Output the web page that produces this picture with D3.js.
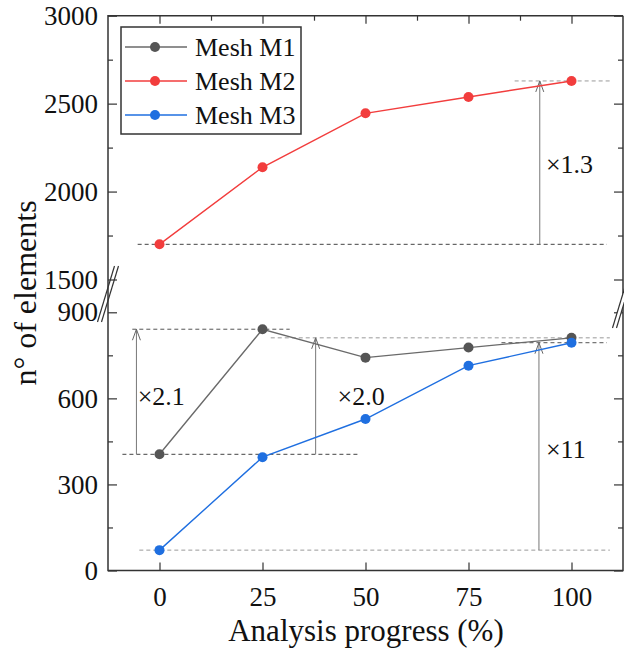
<!DOCTYPE html>
<html>
<head>
<meta charset="utf-8">
<script src="https://cdn.jsdelivr.net/npm/d3@7"></script>
<style>
  body { margin: 0; background: #fff; }
  text { font-family: "Liberation Serif", "Times New Roman", serif; fill: #111; }
</style>
</head>
<body>
<div id="canvas"></div>
<script>
// data
var progress = [0, 25, 50, 75, 100];
var meshM1 = [405, 841, 742, 777, 811];
var meshM2 = [1700, 2138, 2445, 2538, 2629];
var meshM3 = [71, 395, 528, 714, 794];
var seriesNames = ["Mesh M1", "Mesh M2", "Mesh M3"];
var xTicks = [0, 25, 50, 75, 100];
var xMinorTicks = [12.5, 37.5, 62.5, 87.5];
var yTopTicks = [1500, 2000, 2500, 3000];
var yTopMinor = [1750, 2250, 2750];
var yBotTicks = [0, 300, 600, 900];
var yBotMinor = [150, 450, 750];

var canvasWidth = 624, canvasHeight = 658;
var plotLeft = 108, plotRight = 623, plotTop = 15.7, plotBottom = 570.5;

var svg = d3.select("#canvas").append("svg")
    .attr("width", canvasWidth)
    .attr("height", canvasHeight)
    .attr("viewBox", "0 0 " + canvasWidth + " " + canvasHeight);

var x = d3.scaleLinear().domain([-12.5, 112.5]).range([plotLeft, plotRight]);
var yTop = d3.scaleLinear().domain([1500, 3000]).range([279.5, plotTop]);
var yBot = d3.scaleLinear().domain([0, 900]).range([plotBottom, 312.3]);

var colors = { m1: "#555555", m1line: "#6a6a6a", m2: "#f23d3d", m3: "#1f6fe0" };
var lineClr = "#333";

// axes
function styleAxis(g) {
    g.select(".domain").remove();
    g.selectAll(".tick line").attr("stroke", lineClr).attr("stroke-width", 1.2);
    g.selectAll(".tick text").attr("font-size", 27).attr("fill", "#111")
        .attr("font-family", "Liberation Serif");
}

function sideAxis(axisFn, pos, scale, values, size, labels) {
    var ax = axisFn(scale).tickValues(values).tickSize(size);
    if (labels) ax.tickPadding(10).tickFormat(d3.format("d"));
    else ax.tickFormat("");
    svg.append("g").attr("transform", "translate(" + pos + ",0)").call(ax).call(styleAxis);
}

sideAxis(d3.axisLeft, plotLeft, yTop, yTopTicks, -9, true);
sideAxis(d3.axisLeft, plotLeft, yTop, yTopMinor, -5, false);
sideAxis(d3.axisLeft, plotLeft, yBot, yBotTicks, -9, true);
sideAxis(d3.axisLeft, plotLeft, yBot, yBotMinor, -5, false);
sideAxis(d3.axisRight, plotRight, yTop, yTopTicks, -9, false);
sideAxis(d3.axisRight, plotRight, yTop, yTopMinor, -5, false);
sideAxis(d3.axisRight, plotRight, yBot, yBotTicks, -9, false);
sideAxis(d3.axisRight, plotRight, yBot, yBotMinor, -5, false);

svg.append("g").attr("transform", "translate(0," + plotBottom + ")")
    .call(d3.axisBottom(x).tickValues(xTicks).tickSize(-8).tickPadding(16).tickFormat(d3.format("d")))
    .call(styleAxis);
svg.append("g").attr("transform", "translate(0," + plotTop + ")")
    .call(d3.axisTop(x).tickValues(xTicks).tickSize(-8).tickFormat("")).call(styleAxis);
svg.append("g").attr("transform", "translate(0," + plotTop + ")")
    .call(d3.axisTop(x).tickValues(xMinorTicks).tickSize(-5).tickFormat("")).call(styleAxis);

// frame
svg.append("path")
    .attr("d", "M" + plotRight + "," + plotTop + "H" + plotLeft + "V" + plotBottom + "H" + plotRight + "V" + plotTop)
    .attr("fill", "none").attr("stroke", lineClr).attr("stroke-width", 1.5);

// axis break marks
function drawBreak(cx, cy, erase) {
    var dx = 8.5, dy = 28, gap = 4;
    if (erase) {
        svg.append("path")
            .attr("d", "M" + (cx + dx) + "," + (cy - dy) + "L" + (cx - dx) + "," + (cy + dy) +
                "L" + (cx - dx - gap) + "," + (cy + dy) + "L" + (cx + dx - gap) + "," + (cy - dy) + "Z")
            .attr("fill", "#fff");
    }
    [0, gap].forEach(function(o) {
        svg.append("line")
            .attr("x1", cx + dx - o).attr("y1", cy - dy)
            .attr("x2", cx - dx - o).attr("y2", cy + dy)
            .attr("stroke", lineClr).attr("stroke-width", 1.2);
    });
}
drawBreak(plotLeft + 2, 294, false);
drawBreak(plotRight + 2, 300, true);

// reference lines and ratio arrows
function hDash(x1, x2, yv, clr) {
    svg.append("line")
        .attr("x1", x(x1)).attr("x2", x(x2)).attr("y1", yv).attr("y2", yv)
        .attr("stroke", clr).attr("stroke-width", 1).attr("stroke-dasharray", "4,3");
}
function arrow(xv, y1, y2, label, lx, ly) {
    var ax = x(xv);
    svg.append("line")
        .attr("x1", ax).attr("x2", ax).attr("y1", y1).attr("y2", y2)
        .attr("stroke", "#777").attr("stroke-width", 1);
    svg.append("path")
        .attr("d", "M" + (ax - 4) + "," + (y2 + 11) + "L" + ax + "," + y2 + "L" + (ax + 4) + "," + (y2 + 11))
        .attr("fill", "none").attr("stroke", "#666").attr("stroke-width", 1);
    svg.append("text")
        .attr("x", x(lx)).attr("y", ly)
        .attr("font-size", 26)
        .text(label);
}

// x1.3 on M2
hDash(-5.3, 108.6, yTop(meshM2[0]), "#444");
hDash(86.2, 109.3, yTop(meshM2[4]), "#999");
arrow(92.3, yTop(meshM2[0]), yTop(meshM2[4]), "\u00d71.3", 93.8, yTop(2106));

// x2.1 and x2.0 on M1
hDash(-9, 48.3, yBot(meshM1[0]), "#444");
hDash(-6.6, 31.6, yBot(meshM1[1]), "#555");
hDash(27, 109.3, yBot(meshM1[4]), "#999");
arrow(-5.6, yBot(meshM1[0]), yBot(meshM1[1]), "\u00d72.1", -5.3, yBot(577));
arrow(37.9, yBot(meshM1[0]), yBot(meshM1[4]), "\u00d72.0", 43.2, yBot(577));

// x11 on M3
hDash(-4.9, 109.3, yBot(meshM3[0]), "#999");
hDash(83, 108.6, yBot(meshM3[4]), "#555");
arrow(92.1, yBot(meshM3[0]), yBot(meshM3[4]), "\u00d711", 93.8, yBot(392));

// series
var seriesList = [
    { name: seriesNames[0], values: meshM1, y: yBot, line: colors.m1line, dot: colors.m1 },
    { name: seriesNames[1], values: meshM2, y: yTop, line: colors.m2, dot: colors.m2 },
    { name: seriesNames[2], values: meshM3, y: yBot, line: colors.m3, dot: colors.m3 }
];

seriesList.forEach(function(s) {
    var pts = progress.map(function(p, i) { return [p, s.values[i]]; });
    var line = d3.line().x(function(d) { return x(d[0]); }).y(function(d) { return s.y(d[1]); });
    svg.append("path").datum(pts)
        .attr("d", line).attr("fill", "none")
        .attr("stroke", s.line).attr("stroke-width", 1.4);
    svg.selectAll(null).data(pts).enter().append("circle")
        .attr("cx", function(d) { return x(d[0]); })
        .attr("cy", function(d) { return s.y(d[1]); })
        .attr("r", 5)
        .attr("fill", s.dot);
});

// legend
var legend = svg.append("g");
legend.append("rect")
    .attr("x", 121).attr("y", 27).attr("width", 180).attr("height", 107)
    .attr("fill", "#fff").attr("stroke", lineClr).attr("stroke-width", 1.5);
seriesList.forEach(function(s, i) {
    var ly = 47 + i * 34;
    legend.append("line")
        .attr("x1", 125).attr("x2", 187).attr("y1", ly).attr("y2", ly)
        .attr("stroke", s.line).attr("stroke-width", 1.4);
    legend.append("circle").attr("cx", 155).attr("cy", ly).attr("r", 5).attr("fill", s.dot);
    legend.append("text")
        .attr("x", 195).attr("y", ly + 9)
        .attr("font-size", 26)
        .text(s.name);
});

// titles
svg.append("text")
    .attr("x", 366).attr("y", 641)
    .attr("text-anchor", "middle")
    .attr("font-size", 31)
    .text("Analysis progress (%)");

svg.append("text")
    .attr("transform", "translate(36,293) rotate(-90)")
    .attr("text-anchor", "middle")
    .attr("font-size", 32)
    .text("n\u00b0 of elements");
</script>
</body>
</html>
